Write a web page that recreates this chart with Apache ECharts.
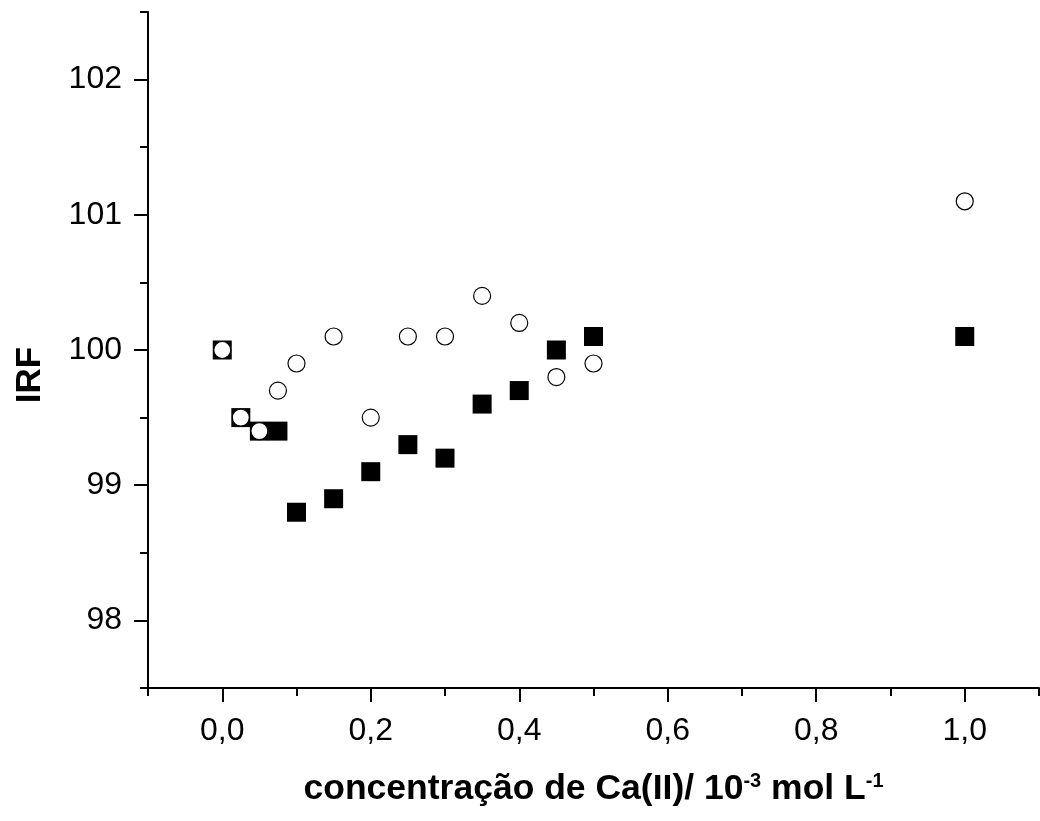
<!DOCTYPE html>
<html>
<head>
<meta charset="utf-8">
<script src="https://cdn.jsdelivr.net/npm/echarts@6/dist/echarts.min.js"></script>
<style>
  html, body { margin: 0; padding: 0; background: #fff; }
  #chart { width: 1040px; height: 821px; }
</style>
</head>
<body>
<div id="chart"></div>
<script>
// values
const concentration = [0, 0.025, 0.05, 0.075, 0.1, 0.15, 0.2, 0.25, 0.3, 0.35, 0.4, 0.45, 0.5, 1.0];
const irfFilled = [100.0, 99.5, 99.4, 99.4, 98.8, 98.9, 99.1, 99.3, 99.2, 99.6, 99.7, 100.0, 100.1, 100.1];
const irfOpen = [100.0, 99.5, 99.4, 99.7, 99.9, 100.1, 99.5, 100.1, 100.1, 100.4, 100.2, 99.8, 99.9, 101.1];

const xMajorTicks = [0, 0.2, 0.4, 0.6, 0.8, 1.0];
const xMinorTicks = [-0.1, 0.1, 0.3, 0.5, 0.7, 0.9, 1.1];
const yMajorTicks = [98, 99, 100, 101, 102];
const yMinorTicks = [97.5, 98.5, 99.5, 100.5, 101.5, 102.5];

const FONT = "'Liberation Sans', Arial, sans-serif";

const pairs = (ys) => concentration.map((x, i) => [x, ys[i]]);

const axisLine = { show: true, onZero: false, lineStyle: { color: "#000", width: 2 } };
const hiddenLine = { show: false, onZero: false };

const myChart = echarts.init(document.getElementById("chart"));
myChart.setOption({
  animation: false,
  backgroundColor: "#fff",
  grid: {
    left: 148,
    right: 1,
    top: 12,
    bottom: 133,
    outerBoundsMode: "none",
  },
  xAxis: [
    {
      type: "value",
      min: -0.1,
      max: 1.1,
      position: "bottom",
      axisLine: axisLine,
      axisTick: {
        show: true,
        inside: false,
        length: 14,
        customValues: xMajorTicks,
        lineStyle: { color: "#000", width: 2 },
      },
      axisLabel: {
        customValues: xMajorTicks,
        margin: 27,
        color: "#000",
        fontFamily: FONT,
        fontSize: 32,
        formatter: (v) => v.toFixed(1).replace(".", ","),
      },
      splitLine: { show: false },
      name: "concentração de Ca(II)/ 10{sup|-3} mol L{sup|-1}",
      nameLocation: "middle",
      nameGap: 83,
      nameMoveOverlap: false,
      nameTextStyle: {
        color: "#000",
        fontFamily: FONT,
        fontWeight: "bold",
        fontSize: 35.5,
        rich: {
          sup: {
            color: "#000",
            fontFamily: FONT,
            fontWeight: "bold",
            fontSize: 20,
            verticalAlign: "top",
          },
        },
      },
    },
    {
      type: "value",
      min: -0.1,
      max: 1.1,
      position: "bottom",
      axisLine: hiddenLine,
      axisTick: {
        show: true,
        inside: false,
        length: 8,
        customValues: xMinorTicks,
        lineStyle: { color: "#000", width: 2 },
      },
      axisLabel: { show: false },
      splitLine: { show: false },
    },
  ],
  yAxis: [
    {
      type: "value",
      min: 97.5,
      max: 102.5,
      position: "left",
      axisLine: axisLine,
      axisTick: {
        show: true,
        inside: false,
        length: 14,
        customValues: yMajorTicks,
        lineStyle: { color: "#000", width: 2 },
      },
      axisLabel: {
        customValues: yMajorTicks,
        margin: 26,
        color: "#000",
        fontFamily: FONT,
        fontSize: 32,
      },
      splitLine: { show: false },
      name: "IRF",
      nameLocation: "middle",
      nameRotate: 90,
      nameGap: 100,
      nameMoveOverlap: false,
      nameTextStyle: {
        color: "#000",
        fontFamily: FONT,
        fontWeight: "bold",
        fontSize: 35,
        padding: [0, 50, 0, 0],
      },
    },
    {
      type: "value",
      min: 97.5,
      max: 102.5,
      position: "left",
      axisLine: hiddenLine,
      axisTick: {
        show: true,
        inside: false,
        length: 8,
        customValues: yMinorTicks,
        lineStyle: { color: "#000", width: 2 },
      },
      axisLabel: { show: false },
      splitLine: { show: false },
    },
  ],
  series: [
    {
      name: "filled",
      type: "scatter",
      data: pairs(irfFilled),
      symbol: "rect",
      symbolSize: 19,
      itemStyle: { color: "#000", opacity: 1 },
      z: 2,
    },
    {
      name: "open",
      type: "scatter",
      data: pairs(irfOpen),
      symbol: "circle",
      symbolSize: 17,
      itemStyle: { color: "#fff", borderColor: "#000", borderWidth: 1.2, opacity: 1 },
      z: 3,
    },
  ],
});
</script>
</body>
</html>
